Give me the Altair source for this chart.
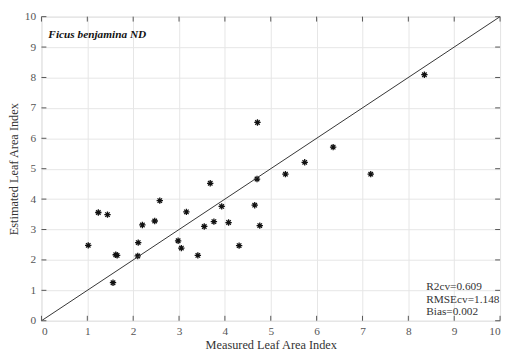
import altair as alt
import pandas as pd

measured = [1.02, 1.24, 1.44, 1.56, 1.62, 1.65, 2.11, 2.10, 2.20, 2.47, 2.58, 2.98, 3.05, 3.16,
            3.41, 3.55, 3.68, 3.76, 3.93, 4.08, 4.31, 4.65, 4.70, 4.76, 4.71, 8.35, 6.36, 5.74,
            5.32, 7.18]
estimated = [2.48, 3.56, 3.49, 1.25, 2.17, 2.15, 2.57, 2.13, 3.15, 3.28, 3.95, 2.63, 2.39, 3.58,
             2.15, 3.10, 4.52, 3.26, 3.76, 3.23, 2.47, 3.80, 4.66, 3.13, 6.52, 8.09, 5.71, 5.21,
             4.82, 4.82]
line_vals = [0, 10]
tick_vals = list(range(0, 11))
stats_lines = ["R2cv=0.609", "RMSEcv=1.148", "Bias=0.002"]
label = "Ficus benjamina ND"

W, H = 466, 309
FONT = "Liberation Serif"

pts = pd.DataFrame({"m": measured, "e": estimated})
line_df = pd.DataFrame({"m": line_vals, "e": line_vals})
ticks_df = pd.DataFrame({"v": tick_vals})

xs = alt.Scale(domain=[0, 10], nice=False)
ys = alt.Scale(domain=[0, 10], nice=False)

xaxis = alt.Axis(title="Measured Leaf Area Index", values=tick_vals, labelPadding=5, titlePadding=2)
yaxis = alt.Axis(title="Estimated Leaf Area Index", values=tick_vals, labelPadding=6, titlePadding=4)

X = lambda f: alt.X(f, scale=xs, axis=xaxis)
Y = lambda f: alt.Y(f, scale=ys, axis=yaxis)

asterisk = "M -1 0 L 1 0 M 0 -1 L 0 1 M -0.7 -0.7 L 0.7 0.7 M -0.7 0.7 L 0.7 -0.7"

points = alt.Chart(pts).mark_point(shape=asterisk, filled=False, color="#111", strokeWidth=1.3,
                                   size=42, opacity=1).encode(x=X("m:Q"), y=Y("e:Q"))

one2one = alt.Chart(line_df).mark_line(color="#333", strokeWidth=1).encode(x=X("m:Q"), y=Y("e:Q"))

tl = 5
bottom_ticks = alt.Chart(ticks_df).mark_rule(color="#555", strokeWidth=1).encode(
    x=X("v:Q"), y=alt.value(H), y2=alt.value(H - tl))
top_ticks = alt.Chart(ticks_df).mark_rule(color="#555", strokeWidth=1).encode(
    x=X("v:Q"), y=alt.value(0), y2=alt.value(tl))
left_ticks = alt.Chart(ticks_df).mark_rule(color="#555", strokeWidth=1).encode(
    y=Y("v:Q"), x=alt.value(0), x2=alt.value(tl))
right_ticks = alt.Chart(ticks_df).mark_rule(color="#555", strokeWidth=1).encode(
    y=Y("v:Q"), x=alt.value(W), x2=alt.value(W - tl))

title_txt = alt.Chart(pd.DataFrame({"t": [label]})).mark_text(
    font=FONT, fontSize=11.5, fontStyle="italic", fontWeight="bold", align="left", baseline="middle",
    color="#111").encode(text="t:N", x=alt.value(7), y=alt.value(19))

stats = alt.Chart(pd.DataFrame({"t": ["\n".join(stats_lines)]})).mark_text(
    font=FONT, fontSize=11.5, align="left", baseline="top", color="#333", lineBreak="\n",
    lineHeight=12.5).encode(text="t:N", x=alt.value(391), y=alt.value(269))

chart = alt.layer(points, one2one, bottom_ticks, top_ticks, left_ticks, right_ticks, title_txt,
                  stats).properties(
    width=W, height=H,
    autosize=alt.AutoSizeParams(type="none"),
    padding={"left": 34, "top": 6, "right": 4, "bottom": 31},
).configure_view(stroke="#555", strokeWidth=1).configure(background="white").configure_axis(
    grid=True, gridColor="#e6e6e6", ticks=False, domain=False,
    labelFont=FONT, labelFontSize=11.5, labelColor="#555",
    titleFont=FONT, titleFontSize=12.5, titleFontWeight="normal", titleColor="#333",
)

chart.save("out.html", embed_options={"renderer": "svg", "actions": False})
